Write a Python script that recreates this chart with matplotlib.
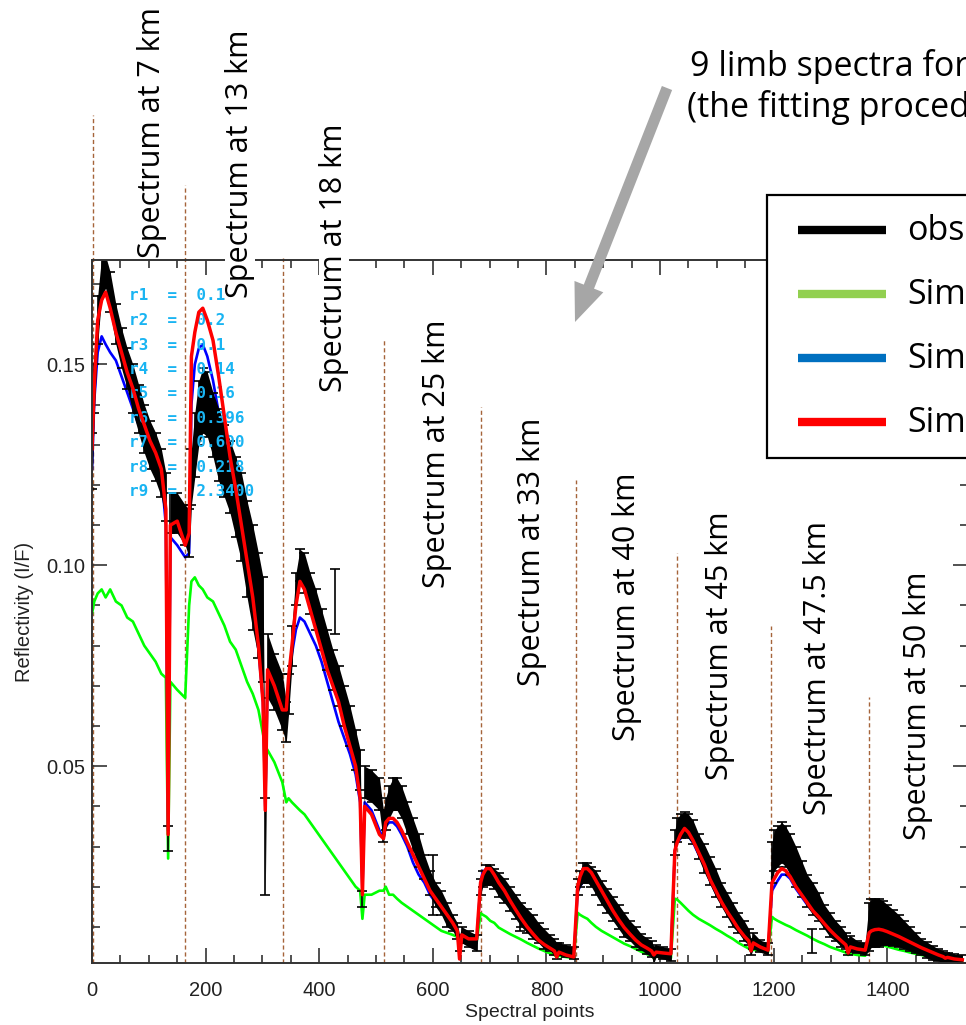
import numpy as np
import matplotlib
matplotlib.use('Agg')
import matplotlib.pyplot as plt
from matplotlib.patches import Rectangle, FancyArrow
from matplotlib.lines import Line2D
from matplotlib.transforms import IdentityTransform
from matplotlib.ticker import MultipleLocator, FormatStrFormatter

W, H = 966, 1025

# spectral-point offsets sampled inside each 171-point limb spectrum
local_pts = [0, 4, 10, 17, 24, 32, 42, 52, 62, 72, 82, 92, 102, 112, 122, 130, 134, 138, 150, 164]
seg_start = [0, 171, 342, 513, 684, 855, 1026, 1197, 1368]
alt_labels = ['7', '13', '18', '25', '33', '40', '45', '47.5', '50']

obs = [
    0.126, 0.144, 0.161, 0.172, 0.173, 0.168, 0.160, 0.154, 0.149, 0.144, 0.139, 0.134, 0.130, 0.127, 0.123, 0.117, 0.032, 0.113, 0.113, 0.110,
    0.108, 0.122, 0.130, 0.138, 0.141, 0.140, 0.135, 0.130, 0.126, 0.122, 0.117, 0.112, 0.104, 0.097, 0.090, 0.084, 0.030, 0.075, 0.071, 0.066,
    0.061, 0.068, 0.080, 0.094, 0.100, 0.098, 0.093, 0.089, 0.084, 0.079, 0.074, 0.070, 0.065, 0.060, 0.054, 0.049, 0.017, 0.046, 0.045, 0.043,
    0.035, 0.038, 0.041, 0.043, 0.043, 0.041, 0.037, 0.033, 0.029, 0.025, 0.021, 0.018, 0.016, 0.013, 0.011, 0.009, 0.006, 0.008, 0.007, 0.006,
    0.020, 0.022, 0.023, 0.023, 0.022, 0.0205, 0.019, 0.017, 0.015, 0.013, 0.0115, 0.010, 0.0085, 0.007, 0.006, 0.005, 0.004, 0.0045, 0.004, 0.0035,
    0.020, 0.022, 0.0235, 0.0235, 0.0225, 0.021, 0.0185, 0.0165, 0.0145, 0.0125, 0.0105, 0.009, 0.0075, 0.0062, 0.0052, 0.0045, 0.003, 0.004, 0.0035, 0.003,
    0.031, 0.034, 0.035, 0.0355, 0.035, 0.0335, 0.030, 0.027, 0.024, 0.021, 0.018, 0.0155, 0.013, 0.011, 0.009, 0.0075, 0.005, 0.0065, 0.0052, 0.0045,
    0.026, 0.029, 0.030, 0.031, 0.030, 0.028, 0.025, 0.022, 0.019, 0.017, 0.015, 0.0125, 0.0105, 0.009, 0.0075, 0.0065, 0.005, 0.0058, 0.005, 0.0045,
    0.010, 0.011, 0.011, 0.011, 0.011, 0.0105, 0.0098, 0.009, 0.008, 0.007, 0.006, 0.005, 0.0042, 0.0035, 0.003, 0.0026, 0.0022, 0.0024, 0.0022, 0.002,
]
obs_err = [
    0.007, 0.006, 0.006, 0.005, 0.004, 0.005, 0.005, 0.005, 0.005, 0.006, 0.006, 0.006, 0.006, 0.006, 0.006, 0.006, 0.003, 0.005, 0.005, 0.005,
    0.006, 0.007, 0.008, 0.008, 0.008, 0.008, 0.008, 0.009, 0.009, 0.009, 0.010, 0.011, 0.012, 0.013, 0.013, 0.013, 0.012, 0.008, 0.007, 0.007,
    0.005, 0.005, 0.005, 0.004, 0.004, 0.005, 0.005, 0.005, 0.005, 0.005, 0.005, 0.005, 0.005, 0.005, 0.005, 0.005, 0.002, 0.004, 0.004, 0.004,
    0.004, 0.004, 0.004, 0.004, 0.004, 0.004, 0.004, 0.004, 0.004, 0.003, 0.003, 0.003, 0.003, 0.003, 0.002, 0.002, 0.002, 0.002, 0.002, 0.002,
    0.002, 0.002, 0.0025, 0.0025, 0.0025, 0.003, 0.003, 0.003, 0.003, 0.003, 0.003, 0.003, 0.0025, 0.0025, 0.002, 0.002, 0.002, 0.0015, 0.0015, 0.0015,
    0.002, 0.002, 0.0025, 0.0025, 0.0025, 0.003, 0.003, 0.003, 0.003, 0.003, 0.003, 0.0025, 0.0025, 0.002, 0.002, 0.002, 0.002, 0.0015, 0.0015, 0.0015,
    0.003, 0.003, 0.003, 0.003, 0.003, 0.003, 0.003, 0.0035, 0.0035, 0.0035, 0.003, 0.003, 0.003, 0.0025, 0.0025, 0.002, 0.002, 0.002, 0.0015, 0.0015,
    0.005, 0.005, 0.005, 0.005, 0.005, 0.005, 0.005, 0.0045, 0.004, 0.004, 0.0035, 0.003, 0.003, 0.0025, 0.0025, 0.002, 0.002, 0.002, 0.0015, 0.0015,
    0.006, 0.006, 0.006, 0.006, 0.0055, 0.005, 0.0045, 0.004, 0.0035, 0.003, 0.0025, 0.002, 0.002, 0.0018, 0.0015, 0.0015, 0.0012, 0.0012, 0.001, 0.001,
]
sim_green = [
    0.088, 0.091, 0.093, 0.094, 0.092, 0.094, 0.091, 0.090, 0.087, 0.086, 0.083, 0.080, 0.078, 0.076, 0.073, 0.072, 0.027, 0.071, 0.069, 0.067,
    0.090, 0.096, 0.097, 0.095, 0.094, 0.092, 0.091, 0.088, 0.085, 0.081, 0.079, 0.075, 0.071, 0.068, 0.064, 0.058, 0.055, 0.054, 0.051, 0.046,
    0.041, 0.042, 0.041, 0.040, 0.039, 0.038, 0.036, 0.034, 0.032, 0.030, 0.028, 0.026, 0.024, 0.022, 0.020, 0.019, 0.012, 0.018, 0.018, 0.019,
    0.019, 0.020, 0.018, 0.018, 0.017, 0.016, 0.015, 0.014, 0.013, 0.012, 0.011, 0.010, 0.009, 0.0085, 0.008, 0.0075, 0.006, 0.007, 0.0065, 0.006,
    0.0134, 0.013, 0.0125, 0.0115, 0.011, 0.0098, 0.009, 0.0082, 0.0075, 0.0068, 0.006, 0.0053, 0.0046, 0.004, 0.0034, 0.003, 0.0025, 0.0028, 0.0025, 0.0022,
    0.0135, 0.013, 0.0125, 0.012, 0.011, 0.010, 0.009, 0.0082, 0.0074, 0.0066, 0.0058, 0.0052, 0.0045, 0.0038, 0.0032, 0.0028, 0.0022, 0.0026, 0.0024, 0.0022,
    0.017, 0.0168, 0.016, 0.015, 0.014, 0.013, 0.012, 0.0112, 0.0104, 0.0095, 0.0087, 0.0078, 0.007, 0.006, 0.0052, 0.0046, 0.004, 0.0043, 0.004, 0.0037,
    0.0125, 0.012, 0.0115, 0.011, 0.0105, 0.010, 0.0092, 0.0085, 0.0078, 0.007, 0.0063, 0.0057, 0.005, 0.0045, 0.004, 0.0036, 0.003, 0.0033, 0.003, 0.0028,
    0.0062, 0.006, 0.0058, 0.0056, 0.0054, 0.0051, 0.0047, 0.0043, 0.004, 0.0036, 0.0033, 0.003, 0.0027, 0.0024, 0.0021, 0.002, 0.0018, 0.0019, 0.0017, 0.0016,
]
sim_blue = [
    0.124, 0.141, 0.153, 0.157, 0.155, 0.153, 0.151, 0.147, 0.143, 0.139, 0.135, 0.132, 0.129, 0.127, 0.123, 0.110, 0.034, 0.107, 0.105, 0.102,
    0.103, 0.140, 0.150, 0.154, 0.155, 0.152, 0.146, 0.138, 0.130, 0.122, 0.115, 0.108, 0.100, 0.091, 0.079, 0.066, 0.040, 0.071, 0.068, 0.063,
    0.062, 0.070, 0.078, 0.084, 0.087, 0.086, 0.083, 0.080, 0.076, 0.071, 0.066, 0.061, 0.057, 0.053, 0.048, 0.041, 0.019, 0.041, 0.039, 0.034,
    0.032, 0.035, 0.036, 0.036, 0.035, 0.033, 0.030, 0.026, 0.023, 0.021, 0.018, 0.016, 0.014, 0.012, 0.010, 0.009, 0.003, 0.008, 0.007, 0.006,
    0.021, 0.024, 0.023, 0.022, 0.021, 0.020, 0.018, 0.016, 0.014, 0.012, 0.010, 0.008, 0.0065, 0.0055, 0.0046, 0.004, 0.003, 0.0037, 0.003, 0.0025,
    0.019, 0.020, 0.0215, 0.022, 0.022, 0.0205, 0.0185, 0.016, 0.0138, 0.0116, 0.0097, 0.008, 0.0066, 0.0055, 0.0047, 0.004, 0.003, 0.0037, 0.0035, 0.0033,
    0.029, 0.031, 0.032, 0.033, 0.0325, 0.031, 0.028, 0.025, 0.0215, 0.0185, 0.016, 0.0135, 0.0115, 0.0094, 0.0076, 0.0065, 0.004, 0.006, 0.005, 0.0042,
    0.019, 0.020, 0.0215, 0.023, 0.023, 0.022, 0.0195, 0.0175, 0.0155, 0.0138, 0.0122, 0.0106, 0.009, 0.0077, 0.0064, 0.0055, 0.0035, 0.005, 0.0045, 0.0042,
    0.0083, 0.0088, 0.0091, 0.0093, 0.0091, 0.0087, 0.0081, 0.0075, 0.0068, 0.0061, 0.0054, 0.0047, 0.0041, 0.0035, 0.003, 0.0026, 0.0021, 0.0024, 0.002, 0.0018,
]
sim_red = [
    0.129, 0.145, 0.161, 0.166, 0.168, 0.164, 0.158, 0.153, 0.148, 0.144, 0.139, 0.135, 0.131, 0.128, 0.124, 0.114, 0.033, 0.110, 0.111, 0.105,
    0.108, 0.152, 0.158, 0.163, 0.164, 0.161, 0.156, 0.147, 0.137, 0.127, 0.119, 0.110, 0.101, 0.092, 0.080, 0.066, 0.039, 0.074, 0.070, 0.064,
    0.064, 0.072, 0.080, 0.090, 0.096, 0.094, 0.089, 0.084, 0.079, 0.074, 0.070, 0.066, 0.060, 0.055, 0.050, 0.042, 0.018, 0.040, 0.038, 0.033,
    0.032, 0.036, 0.037, 0.037, 0.036, 0.034, 0.031, 0.028, 0.025, 0.022, 0.019, 0.017, 0.015, 0.013, 0.011, 0.009, 0.002, 0.008, 0.007, 0.007,
    0.021, 0.023, 0.0245, 0.0245, 0.023, 0.021, 0.019, 0.0165, 0.0142, 0.012, 0.010, 0.0083, 0.0067, 0.0056, 0.0047, 0.004, 0.0025, 0.0037, 0.003, 0.0025,
    0.020, 0.0225, 0.0245, 0.0245, 0.0235, 0.0215, 0.019, 0.0165, 0.014, 0.0118, 0.0098, 0.0082, 0.0067, 0.0055, 0.0047, 0.004, 0.003, 0.0037, 0.0035, 0.0033,
    0.029, 0.031, 0.033, 0.0345, 0.0335, 0.0315, 0.0285, 0.0255, 0.0218, 0.019, 0.0162, 0.0138, 0.0117, 0.0095, 0.0077, 0.0065, 0.004, 0.006, 0.005, 0.0042,
    0.021, 0.022, 0.0235, 0.0245, 0.024, 0.0225, 0.020, 0.018, 0.016, 0.014, 0.0125, 0.0108, 0.0092, 0.0078, 0.0065, 0.0055, 0.0035, 0.005, 0.0045, 0.0042,
    0.0085, 0.009, 0.0093, 0.0094, 0.0092, 0.0088, 0.0082, 0.0076, 0.0069, 0.0062, 0.0055, 0.0048, 0.0042, 0.0036, 0.003, 0.0026, 0.0022, 0.0024, 0.002, 0.0018,
]

# a few isolated observations with large error bars
spike_x = [428, 600, 753, 1267]
spike_y = [0.091, 0.0204, 0.012, 0.0065]
spike_err = [0.008, 0.0075, 0.003, 0.003]

# retrieved parameters printed on the IDL plot (partly hidden)
param_text = ['r1  =  0.1', 'r2  =  0.2', 'r3  =  0.1', 'r4  =  0.14', 'r5  =  0.16',
              'r6  =  0.396', 'r7  =  0.600', 'r8  =  0.218', 'r9  =  2.3400']

# hand-drawn separators on the slide (spectral point, reflectivity of top end)
sep_x = [2, 164, 336, 514, 685, 852, 1030, 1195, 1368]
sep_top = [0.212, 0.1946, 0.1764, 0.1567, 0.1393, 0.1212, 0.1030, 0.0848, 0.0672]

legend_labels = ['observation', 'Simulation', 'Simulation', 'Simulation']
legend_colors = ['black', '#92d050', '#0070c0', '#ff0000']

x = np.concatenate([s + np.array(local_pts) for s in seg_start])
obs = np.array(obs)
obs_err = np.array(obs_err)


def fx(px):
    return px / W


def fy(py):
    return 1 - py / H


fig = plt.figure(figsize=(W / 100, H / 100), dpi=100)
ax = fig.add_axes([fx(92), fy(963), (968 - 92) / W, (963 - 260) / H])

axis_font = 'Liberation Sans'
slide_font = ['Open Sans', 'DejaVu Sans']

ax.vlines(sep_x, 0.001, sep_top, colors='#a5643a', linestyles=(0, (3, 2)), lw=1.0,
          clip_on=False, zorder=1)

ax.plot(x, sim_green, color='#00ff00', lw=1.9, zorder=2)
ax.plot(x, sim_blue, color='#0000ff', lw=1.9, zorder=2.1)
ax.fill_between(x, obs - obs_err, obs + obs_err, color='black', lw=0, zorder=2.2)
ax.errorbar(x, obs, yerr=obs_err, fmt='none', ecolor='black', elinewidth=1.2,
            capsize=3.5, capthick=1.2, zorder=2.3)
ax.errorbar(spike_x, spike_y, yerr=spike_err, fmt='none', ecolor='black', elinewidth=1.2,
            capsize=3.5, capthick=1.2, zorder=2.3)

# parameter text: above the observations, under the best-fit curve
for i, t in enumerate(param_text):
    ax.text(fx(129), fy(296 + 24.5 * i), t, transform=fig.transFigure, color='#19b4f2',
            family='DejaVu Sans Mono', fontweight='bold', fontsize=11.5, va='center', zorder=2.4)

ax.plot(x, sim_red, color='#ff0000', lw=2.5, zorder=2.5)

ax.set_xlim(0, 1542)
ax.set_ylim(0.001, 0.176)
ax.xaxis.set_major_locator(MultipleLocator(200))
ax.xaxis.set_minor_locator(MultipleLocator(50))
ax.yaxis.set_major_locator(MultipleLocator(0.05))
ax.yaxis.set_minor_locator(MultipleLocator(0.01))
ax.yaxis.set_major_formatter(FormatStrFormatter('%.2f'))
ax.tick_params(which='both', direction='in', top=True, right=True, color='#333333', width=1.2)
ax.tick_params(which='major', length=11)
ax.tick_params(which='minor', length=5.5)
ax.tick_params(axis='x', pad=13, labelsize=14.5, labelcolor='#222222')
ax.tick_params(axis='y', pad=5, labelsize=14.5, labelcolor='#222222')
for lab in ax.get_xticklabels() + ax.get_yticklabels():
    lab.set_family(axis_font)
for sp in ax.spines.values():
    sp.set_linewidth(1.4)
    sp.set_color('#333333')
ax.set_xlabel('Spectral points', family=axis_font, fontsize=14, color='#222222', labelpad=3)
ax.set_ylabel('Reflectivity (I/F)', family=axis_font, fontsize=14.5, color='#222222', labelpad=9)

# altitude labels of each limb spectrum
label_cx = [152, 240, 334, 437, 532, 627, 720, 818, 918]
label_by = [258, 298, 392, 588, 686, 741, 780, 815, 840]
for a, cx, by in zip(alt_labels, label_cx, label_by):
    fig.text(fx(cx), fy(by), f'Spectrum at {a} km', rotation=90, ha='center', va='bottom',
             family=slide_font, fontsize=22, color='black', zorder=5,
             bbox=dict(facecolor='white', edgecolor='none', pad=0.3))

fig.text(fx(690), fy(76), '9 limb spectra for the', family=slide_font, fontsize=24.5,
         va='baseline', ha='left', zorder=5)
fig.text(fx(687), fy(117), '(the fitting procedure', family=slide_font,
         fontsize=24.5, va='baseline', ha='left', zorder=5)

arrow = FancyArrow(667, H - 88, 575 - 667, -(322 - 88), width=11, head_width=31, head_length=38,
                   length_includes_head=True, color='#a6a6a6', lw=0,
                   transform=IdentityTransform(), zorder=5)
fig.add_artist(arrow)

# legend box of the slide, cut by the right edge of the image
box = Rectangle((fx(767), fy(458)), fx(400), (458 - 195) / H, transform=fig.transFigure,
                facecolor='white', edgecolor='black', lw=1.6, zorder=6)
fig.add_artist(box)
for i, (lab, col) in enumerate(zip(legend_labels, legend_colors)):
    yy = 230 + 64 * i
    fig.add_artist(Line2D([fx(798), fx(886)], [fy(yy), fy(yy)], color=col, lw=6,
                          transform=fig.transFigure, zorder=7, solid_capstyle='butt'))
    fig.text(fx(907), fy(yy + 10), lab, family=slide_font, fontsize=24.5, va='baseline',
             ha='left', zorder=7)

fig.savefig('out.png', dpi=100)
